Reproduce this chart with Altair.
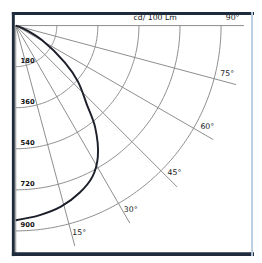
import altair as alt
import pandas as pd
import numpy as np

# Luminous intensity curve (cd / 100 lm) vs angle from nadir (deg)
curve_angle = [0, 7, 14, 21, 27, 32, 38, 42, 48, 53, 61, 66, 70, 75, 90]
curve_cd    = [853, 838, 818, 784, 742, 679, 565, 466, 367, 270, 131, 60, 20, 0, 0]

ring_values = [180, 360, 540, 720, 900]
ring_labels = ["180", "360", "540", "720", "900"]
spoke_angles = [0, 15, 30, 45, 60, 75, 90]
spoke_labels = ["", "15°", "30°", "45°", "60°", "75°", "90°"]
unit_label = "cd/ 100 Lm"

K = 212 / 900.0  # px per cd
W, H = 254, 255
OX, OY = 8, 14   # origin in svg px
xdom = [-OX / K, (W - OX) / K]
ydom = [-(H - OY) / K, OY / K]
xs = alt.Scale(domain=xdom, nice=False, zero=False)
ys = alt.Scale(domain=ydom, nice=False, zero=False)
X = lambda: alt.X("x:Q", scale=xs, axis=None)
Y = lambda: alt.Y("y:Q", scale=ys, axis=None)

def pol(r, a):
    t = np.radians(a)
    return r * np.sin(t), -r * np.cos(t)

# rings
rows = []
for rv in ring_values:
    for a in np.arange(0, 90.5, 1.0):
        x, y = pol(rv, a)
        rows.append({"ring": rv, "a": a, "x": x, "y": y})
rings = pd.DataFrame(rows)

# spokes
rows = []
for a in spoke_angles:
    for i, rr in enumerate([0, 1000]):
        x, y = pol(rr, a)
        rows.append({"sp": a, "o": i, "x": x, "y": y})
spokes = pd.DataFrame(rows)

# curve
rows = []
for i, (a, c) in enumerate(zip(curve_angle, curve_cd)):
    x, y = pol(c, a)
    rows.append({"o": i, "x": x, "y": y})
cdf = pd.DataFrame(rows)

# labels
rows = []
for a, lab in zip(spoke_angles, spoke_labels):
    if lab:
        x, y = pol(951, a + 2)
        rows.append({"x": x, "y": y, "t": lab})
alabels = pd.DataFrame(rows)
rows = []
for rv, lab in zip(ring_values, ring_labels):
    rows.append({"x": 5 / K, "y": -rv + 6 / K, "t": lab})
rlabels = pd.DataFrame(rows)

ring_layer = alt.Chart(rings).mark_line(color="#8a8a8a", strokeWidth=1).encode(
    x=X(), y=Y(), detail="ring:N", order="a:Q")
spoke_layer = alt.Chart(spokes).mark_line(color="#8a8a8a", strokeWidth=1).encode(
    x=X(), y=Y(), detail="sp:N", order="o:Q")
curve_layer = alt.Chart(cdf).mark_line(color="#1c1f2a", strokeWidth=2, interpolate="catmull-rom").encode(
    x=X(), y=Y(), order="o:Q")
alab = alt.Chart(alabels).mark_text(fontSize=8, font="DejaVu Sans", color="#1a1a1a",
                                    align="center", baseline="middle").encode(
    x=X(), y=Y(), text="t:N")
rlab = alt.Chart(rlabels).mark_text(fontSize=7, font="DejaVu Sans", color="#111111",
                                    fontWeight="bold", align="left", baseline="middle").encode(
    x=X(), y=Y(), text="t:N")
ulab = alt.Chart(pd.DataFrame({"x": [611], "y": [34], "t": [unit_label]})).mark_text(
    fontSize=8, font="DejaVu Sans", color="#1a1a1a", align="center", baseline="middle").encode(
    x=X(), y=Y(), text="t:N")

def bar(x1, x2, y1, y2, color):
    return alt.Chart(pd.DataFrame({"a": [0]})).mark_rect(color=color).encode(
        x=alt.value(x1), x2=alt.value(x2), y=alt.value(y1), y2=alt.value(y2))
frame = (bar(4, 7, 0, 252, "#1d2b3c") + bar(4, 254, 0, 3, "#1d2b3c")
         + bar(4, 254, 248, 252, "#1d2b3c") + bar(251, 253, 0, 252, "#b8cde0"))

chart = alt.layer(ring_layer, spoke_layer, curve_layer, alab, rlab, ulab, frame).properties(
    width=W, height=H, padding=0, autosize=alt.AutoSizeParams(type="none"),
    background="white").configure_view(stroke=None)

chart.save("out.html", embed_options={"renderer": "svg", "actions": False})
